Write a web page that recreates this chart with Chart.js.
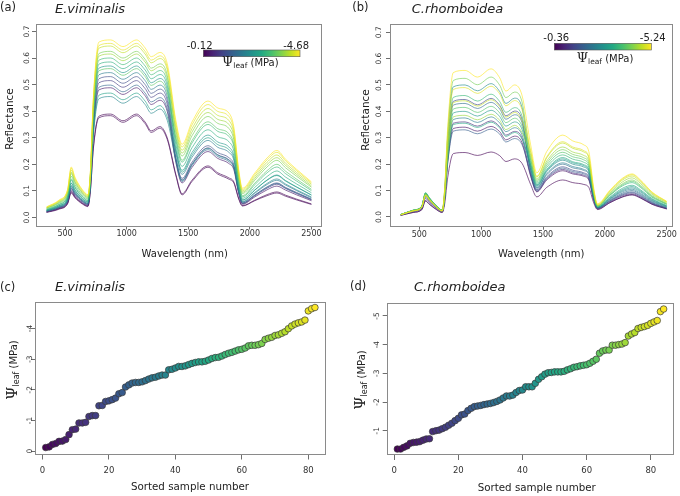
<!DOCTYPE html>
<html>
<head>
<meta charset="utf-8">
<script src="https://cdn.jsdelivr.net/npm/chart.js@4.4.1/dist/chart.umd.min.js"></script>
<style>
  html, body { margin: 0; padding: 0; background: #fff; }
  #fig { position: relative; width: 680px; height: 496px; overflow: hidden; }
  #fig canvas { position: absolute; }
</style>
</head>
<body>
<div id="fig">
  <canvas id="pa" width="340" height="262" style="left:0;top:0"></canvas>
  <canvas id="pb" width="340" height="262" style="left:340px;top:0"></canvas>
  <canvas id="pc" width="340" height="234" style="left:0;top:262px"></canvas>
  <canvas id="pd" width="340" height="234" style="left:340px;top:262px"></canvas>
</div>
<script>
// wavelengths (nm) shared by both sets of spectra
const wavelength = [350, 450, 520, 550, 580, 640, 685, 705, 730, 775, 870, 970, 1080, 1150, 1200, 1270, 1330,
  1400, 1450, 1530, 1660, 1740, 1830, 1870, 1910, 1940, 2040, 2140, 2220, 2290, 2380, 2500];

const wlTicks = [500, 1000, 1500, 2000, 2500];
const reflTicks = [0, 0.1, 0.2, 0.3, 0.4, 0.5, 0.6, 0.7];
const sampleTicks = [0, 20, 40, 60, 80];
const psiTicksC = [0, -1, -2, -3, -4];
const psiTicksD = [-1, -2, -3, -4, -5];

// colour bar ends (MPa)
const cbarA = [-0.12, -4.68];
const cbarB = [-0.36, -5.24];

// (a) E.viminalis: leaf water potential of each plotted spectrum, and its reflectance
const psiSpectraA = [-0.12, -0.16, -0.45, -0.9, -1.2, -1.6, -2.0, -2.2, -2.5, -2.7, -3.0, -3.2, -3.5, -3.75, -4.0, -4.25, -4.5, -4.68];
const reflA = [
  [.020,.033,.053,.096,.077,.053,.043,.097,.265,.381,.389,.364,.389,.359,.326,.342,.299,.161,.089,.140,.194,.168,.149,.134,.072,.045,.065,.086,.096,.084,.069,.051],
  [.019,.031,.051,.092,.074,.051,.041,.096,.260,.375,.383,.358,.383,.353,.320,.336,.293,.157,.085,.135,.189,.163,.144,.130,.069,.043,.063,.082,.092,.080,.066,.049],
  [.021,.034,.055,.100,.080,.055,.045,.122,.332,.480,.488,.463,.488,.458,.425,.441,.398,.206,.130,.188,.248,.222,.203,.180,.089,.050,.077,.104,.118,.103,.085,.063],
  [.022,.036,.058,.105,.084,.058,.047,.129,.350,.507,.515,.490,.515,.485,.452,.468,.425,.217,.141,.201,.262,.236,.217,.192,.094,.052,.081,.110,.125,.109,.090,.066],
  [.023,.037,.061,.110,.088,.061,.050,.133,.360,.522,.530,.505,.530,.500,.467,.483,.440,.224,.147,.208,.270,.244,.225,.199,.098,.054,.084,.115,.130,.113,.094,.069],
  [.024,.038,.062,.112,.090,.062,.050,.125,.339,.490,.498,.473,.498,.468,.435,.451,.408,.212,.135,.195,.255,.229,.210,.186,.094,.055,.084,.113,.128,.111,.092,.068],
  [.025,.040,.065,.118,.094,.065,.053,.136,.371,.537,.545,.520,.545,.515,.482,.498,.455,.241,.162,.226,.290,.264,.245,.216,.105,.058,.091,.124,.140,.122,.101,.074],
  [.025,.041,.066,.120,.096,.066,.054,.114,.309,.447,.455,.430,.455,.425,.392,.408,.365,.216,.139,.199,.260,.234,.215,.190,.099,.060,.094,.128,.145,.126,.104,.077],
  [.027,.044,.072,.130,.104,.072,.059,.143,.388,.562,.570,.545,.570,.540,.507,.523,.480,.257,.177,.244,.310,.284,.265,.233,.115,.065,.103,.141,.160,.139,.115,.085],
  [.027,.044,.070,.128,.102,.070,.058,.117,.318,.460,.468,.443,.468,.438,.405,.421,.378,.249,.170,.235,.300,.274,.255,.224,.113,.066,.103,.140,.158,.137,.114,.084],
  [.029,.048,.077,.140,.112,.077,.063,.146,.398,.577,.585,.560,.585,.555,.522,.538,.495,.274,.192,.262,.330,.304,.285,.250,.125,.072,.113,.154,.175,.152,.126,.093],
  [.030,.049,.080,.145,.116,.080,.065,.150,.408,.592,.600,.575,.600,.570,.537,.553,.510,.291,.208,.280,.350,.324,.305,.267,.135,.078,.123,.168,.190,.165,.137,.101],
  [.033,.053,.085,.155,.124,.085,.070,.140,.381,.552,.560,.535,.560,.530,.497,.513,.470,.299,.215,.289,.360,.334,.315,.275,.140,.082,.129,.176,.200,.174,.144,.106],
  [.035,.056,.091,.165,.132,.091,.074,.156,.425,.617,.625,.600,.625,.595,.562,.578,.535,.315,.231,.307,.380,.354,.335,.292,.151,.090,.140,.190,.215,.187,.155,.114],
  [.036,.058,.094,.170,.136,.094,.077,.154,.418,.607,.615,.590,.615,.585,.552,.568,.525,.328,.242,.321,.395,.369,.350,.305,.158,.095,.147,.199,.225,.196,.162,.119],
  [.037,.061,.098,.178,.142,.098,.080,.161,.439,.637,.645,.620,.645,.615,.582,.598,.555,.340,.253,.334,.410,.384,.365,.318,.165,.100,.154,.208,.235,.204,.169,.125],
  [.039,.063,.102,.185,.148,.102,.083,.164,.445,.647,.655,.630,.655,.625,.592,.608,.565,.353,.265,.348,.425,.399,.380,.330,.173,.105,.161,.217,.245,.213,.176,.130],
  [.040,.065,.105,.190,.152,.105,.086,.167,.454,.660,.668,.643,.668,.638,.605,.621,.578,.364,.275,.359,.438,.412,.393,.341,.179,.110,.167,.224,.252,.219,.181,.134]
];

// (b) C.rhomboidea
const psiSpectraB = [-0.36, -0.6, -1.0, -1.4, -1.8, -2.1, -2.4, -2.7, -3.0, -3.3, -3.6, -3.9, -4.2, -4.5, -4.8, -5.0, -5.24];
const reflB = [
  [.006,.017,.027,.060,.048,.027,.017,.049,.151,.240,.244,.233,.246,.232,.210,.220,.203,.123,.076,.112,.140,.130,.123,.112,.053,.028,.054,.076,.085,.072,.049,.031],
  [.006,.017,.028,.062,.050,.028,.017,.068,.211,.335,.340,.325,.343,.323,.292,.306,.282,.154,.095,.140,.175,.163,.154,.140,.063,.030,.054,.075,.083,.071,.048,.030],
  [.007,.020,.032,.070,.056,.032,.020,.072,.223,.355,.360,.344,.364,.342,.310,.324,.299,.158,.097,.144,.180,.167,.158,.144,.066,.032,.057,.080,.088,.075,.051,.032],
  [.008,.021,.034,.075,.060,.034,.021,.089,.276,.438,.445,.425,.449,.423,.383,.401,.369,.167,.103,.152,.190,.177,.167,.152,.069,.033,.060,.083,.092,.078,.053,.033],
  [.008,.022,.036,.080,.064,.036,.022,.066,.205,.325,.330,.315,.333,.314,.284,.297,.274,.163,.100,.148,.185,.172,.163,.148,.068,.033,.061,.086,.095,.081,.055,.034],
  [.008,.022,.036,.080,.064,.036,.022,.086,.267,.424,.430,.411,.434,.409,.370,.387,.357,.176,.108,.160,.200,.186,.176,.160,.073,.035,.064,.090,.100,.085,.058,.036],
  [.009,.024,.038,.085,.068,.038,.024,.075,.233,.369,.375,.358,.379,.356,.323,.338,.311,.180,.111,.164,.205,.191,.180,.164,.074,.035,.067,.095,.105,.089,.061,.038],
  [.009,.025,.041,.090,.072,.041,.025,.100,.310,.493,.500,.478,.505,.475,.430,.450,.415,.189,.116,.172,.215,.200,.189,.172,.077,.036,.069,.099,.110,.094,.064,.040],
  [.009,.025,.040,.088,.070,.040,.025,.080,.248,.394,.400,.382,.404,.380,.344,.360,.332,.194,.119,.176,.220,.205,.194,.176,.079,.037,.072,.103,.115,.098,.067,.041],
  [.009,.025,.041,.090,.072,.041,.025,.071,.220,.350,.355,.339,.359,.337,.305,.320,.295,.198,.122,.180,.225,.209,.198,.180,.081,.038,.075,.108,.120,.102,.070,.043],
  [.009,.026,.041,.092,.074,.041,.026,.092,.285,.453,.460,.439,.465,.437,.396,.414,.382,.207,.127,.188,.235,.219,.207,.188,.084,.040,.081,.117,.130,.111,.075,.047],
  [.009,.025,.041,.090,.072,.041,.025,.083,.257,.409,.415,.396,.419,.394,.357,.374,.344,.216,.132,.196,.245,.228,.216,.196,.088,.041,.083,.121,.135,.115,.078,.049],
  [.009,.025,.040,.088,.070,.040,.025,.105,.326,.517,.525,.501,.530,.499,.452,.473,.436,.224,.138,.204,.255,.237,.224,.204,.091,.042,.086,.125,.140,.119,.081,.050],
  [.009,.024,.038,.085,.068,.038,.024,.077,.239,.379,.385,.368,.389,.366,.331,.347,.320,.233,.143,.212,.265,.246,.233,.212,.094,.043,.090,.132,.148,.126,.086,.053],
  [.008,.023,.037,.083,.066,.037,.023,.088,.273,.433,.440,.420,.444,.418,.378,.396,.365,.246,.151,.224,.280,.260,.246,.224,.099,.045,.095,.139,.155,.132,.090,.056],
  [.008,.022,.036,.080,.064,.036,.022,.098,.304,.483,.490,.468,.495,.466,.421,.441,.407,.251,.154,.228,.285,.265,.251,.228,.101,.047,.098,.143,.160,.136,.093,.058],
  [.008,.023,.037,.082,.066,.037,.023,.111,.344,.547,.555,.530,.561,.527,.477,.500,.461,.273,.167,.248,.310,.288,.273,.248,.109,.050,.101,.146,.163,.139,.095,.059]
];

// (c), (d) sorted leaf water potential (MPa)
const psiSortedC = [-0.12,-0.14,-0.22,-0.25,-0.32,-0.33,-0.38,-0.54,-0.70,-0.72,
  -0.92,-0.92,-0.94,-1.13,-1.16,-1.16,-1.48,-1.49,-1.62,-1.64,
  -1.68,-1.73,-1.87,-1.91,-2.09,-2.16,-2.22,-2.24,-2.24,-2.26,
  -2.30,-2.35,-2.39,-2.41,-2.45,-2.48,-2.48,-2.65,-2.67,-2.71,
  -2.76,-2.76,-2.78,-2.82,-2.86,-2.89,-2.91,-2.91,-2.93,-2.97,
  -3.02,-3.05,-3.06,-3.10,-3.15,-3.19,-3.22,-3.26,-3.30,-3.32,
  -3.36,-3.43,-3.45,-3.45,-3.47,-3.51,-3.64,-3.68,-3.71,-3.77,
  -3.79,-3.84,-3.89,-3.99,-4.08,-4.14,-4.18,-4.21,-4.27,-4.57,
  -4.64,-4.68];
const psiSortedD = [-0.36,-0.36,-0.42,-0.47,-0.56,-0.59,-0.60,-0.62,-0.67,-0.71,
  -0.72,-0.97,-1.00,-1.02,-1.07,-1.12,-1.19,-1.26,-1.35,-1.43,
  -1.55,-1.58,-1.70,-1.78,-1.84,-1.86,-1.88,-1.91,-1.93,-1.95,
  -1.98,-2.02,-2.07,-2.14,-2.21,-2.21,-2.24,-2.33,-2.40,-2.42,
  -2.53,-2.53,-2.53,-2.65,-2.79,-2.88,-2.97,-3.02,-3.03,-3.05,
  -3.05,-3.05,-3.07,-3.12,-3.16,-3.21,-3.23,-3.26,-3.28,-3.30,
  -3.35,-3.42,-3.49,-3.70,-3.78,-3.81,-3.81,-3.98,-3.98,-4.00,
  -4.02,-4.07,-4.30,-4.37,-4.42,-4.56,-4.60,-4.63,-4.67,-4.74,
  -4.79,-4.84,-5.15,-5.24];

Chart.defaults.font.family = '"DejaVu Sans", sans-serif';

const VIRIDIS = ['#440154', '#482475', '#414487', '#355f8d', '#2a788e', '#21918c',
  '#22a884', '#44bf70', '#7ad151', '#bddf26', '#fde725'];

function rgb(h) {
  return [1, 3, 5].map(i => parseInt(h.slice(i, i + 2), 16));
}

function viridis(t, a) {
  t = Math.max(0, Math.min(1, t));
  const p = t * (VIRIDIS.length - 1);
  const i = Math.min(Math.floor(p), VIRIDIS.length - 2);
  const f = p - i;
  const c0 = rgb(VIRIDIS[i]), c1 = rgb(VIRIDIS[i + 1]);
  const c = c0.map((v, j) => Math.round(v + (c1[j] - v) * f));
  return 'rgba(' + c.join(',') + ',' + (a == null ? 1 : a) + ')';
}

function label(ctx, str, x, y, font, align, rotate, color) {
  ctx.save();
  ctx.font = font;
  ctx.fillStyle = color || '#222';
  ctx.textAlign = align || 'left';
  ctx.textBaseline = 'middle';
  ctx.translate(x, y);
  if (rotate) ctx.rotate(-Math.PI / 2);
  ctx.fillText(str, 0, 0);
  ctx.restore();
}

// Ψ with "leaf" subscript, then (MPa); centred on x, y
function psiLabel(ctx, x, y, sizes, rotate) {
  const fPsi = sizes[0] + 'px "DejaVu Serif"';
  const fSub = sizes[1] + 'px "DejaVu Sans"';
  const fMain = sizes[2] + 'px "DejaVu Sans"';
  ctx.save();
  ctx.translate(x, y);
  if (rotate) ctx.rotate(-Math.PI / 2);
  ctx.fillStyle = '#222';
  ctx.textBaseline = 'alphabetic';
  ctx.font = fPsi; const w1 = ctx.measureText('Ψ').width;
  ctx.font = fSub; const w2 = ctx.measureText('leaf').width;
  ctx.font = fMain; const w3 = ctx.measureText(' (MPa)').width;
  let cx = -(w1 + w2 + w3) / 2;
  const base = sizes[2] * 0.36;
  ctx.font = fPsi; ctx.fillText('Ψ', cx, base); cx += w1;
  ctx.font = fSub; ctx.fillText('leaf', cx, base + sizes[1] * 0.3); cx += w2;
  ctx.font = fMain; ctx.fillText(' (MPa)', cx, base);
  ctx.restore();
}

function colorbar(ctx, cb, ends) {
  const g = ctx.createLinearGradient(cb.x, 0, cb.x + cb.w, 0);
  VIRIDIS.forEach((c, i) => g.addColorStop(i / (VIRIDIS.length - 1), c));
  ctx.fillStyle = g;
  ctx.fillRect(cb.x, cb.y, cb.w, cb.h);
  ctx.strokeStyle = '#555';
  ctx.lineWidth = 0.6;
  ctx.strokeRect(cb.x, cb.y, cb.w, cb.h);
  label(ctx, ends[0].toFixed(2), cb.lx, cb.ly, '10px "DejaVu Sans"', 'left');
  label(ctx, ends[1].toFixed(2), cb.rx, cb.ly, '10px "DejaVu Sans"', 'right');
  psiLabel(ctx, cb.px, cb.py, [13, 7.5, 10], false);
}

function frame(ctx, a) {
  ctx.save();
  ctx.strokeStyle = '#8a8a8a';
  ctx.lineWidth = 1;
  const l = Math.round(a.left) + 0.5, t = Math.round(a.top) + 0.5;
  const r = Math.round(a.right) - 0.5, b = Math.round(a.bottom) - 0.5;
  ctx.strokeRect(l, t, r - l, b - t);
  ctx.restore();
}

function scaleOpts(o) {
  return {
    type: 'linear', min: o.min, max: o.max, reverse: !!o.reverse,
    afterFit: s => { if (o.w != null) s.width = o.w; if (o.h != null) s.height = o.h; },
    afterBuildTicks: s => { s.ticks = o.ticks.map(v => ({ value: v })); },
    ticks: {
      callback: v => String(v), color: o.hide ? 'rgba(0,0,0,0)' : '#333',
      font: { size: o.font || 8 }, padding: o.pad || 0,
      maxRotation: 0, minRotation: 0, autoSkip: false
    },
    grid: { drawOnChartArea: false, drawTicks: true, tickLength: o.tl, tickColor: '#6e6e6e', tickWidth: 1 },
    border: { display: false }
  };
}

function decor(draw) {
  return {
    id: 'decor',
    afterDraw(chart) {
      const ctx = chart.ctx;
      frame(ctx, chart.chartArea);
      draw(ctx, chart);
    }
  };
}

function spectraChart(id, o) {
  const t = v => (v - o.cbar[0]) / (o.cbar[1] - o.cbar[0]);
  const datasets = o.refl.map((row, i) => ({
    data: row.map((r, j) => ({ x: wavelength[j], y: r })),
    borderColor: viridis(t(o.psi[i]), 0.75),
    borderWidth: 0.85,
    pointRadius: 0,
    pointHoverRadius: 0,
    cubicInterpolationMode: 'monotone'
  })).reverse();   // yellow (driest) spectra end up on top

  return new Chart(document.getElementById(id), {
    type: 'line',
    data: { datasets },
    options: {
      responsive: false, animation: false, events: [],
      layout: { autoPadding: false, padding: o.padding },
      plugins: { legend: { display: false }, tooltip: { enabled: false } },
      scales: {
        x: scaleOpts({ min: o.x[0], max: o.x[1], ticks: wlTicks, h: o.xh, tl: 3, font: 8, pad: 0 }),
        y: scaleOpts({ min: o.y[0], max: o.y[1], ticks: reflTicks, w: o.yw, tl: 4, hide: true })
      }
    },
    plugins: [decor((ctx, chart) => {
      const ys = chart.scales.y;
      ys.ticks.forEach(tk => label(ctx, tk.value.toFixed(1), o.yLabX, ys.getPixelForValue(tk.value),
        '7.5px "DejaVu Sans"', 'center', true, '#333'));
      label(ctx, o.letter, o.letterX, 8, '11.5px "DejaVu Sans"', 'left');
      label(ctx, o.species, o.speciesX, 10, 'italic 13px "DejaVu Sans"', 'left');
      label(ctx, 'Wavelength (nm)', o.xTitle[0], o.xTitle[1], '10px "DejaVu Sans"', 'center');
      label(ctx, 'Reflectance', o.yTitle[0], o.yTitle[1], '10.5px "DejaVu Sans"', 'center', true);
      colorbar(ctx, o.cb, o.cbar);
    })]
  });
}

function scatterChart(id, o) {
  const n = o.psi.length;
  return new Chart(document.getElementById(id), {
    type: 'scatter',
    data: {
      datasets: [{
        data: o.psi.map((v, i) => ({ x: i + 1, y: v })),
        pointRadius: 3.3,
        pointHoverRadius: 3.3,
        pointBackgroundColor: o.psi.map((v, i) => viridis(i / (n - 1))),
        pointBorderColor: '#3a3a3a',
        pointBorderWidth: 0.7
      }]
    },
    options: {
      responsive: false, animation: false, events: [],
      layout: { autoPadding: false, padding: o.padding },
      plugins: { legend: { display: false }, tooltip: { enabled: false } },
      scales: {
        x: scaleOpts({ min: o.x[0], max: o.x[1], ticks: sampleTicks, h: o.xh, tl: 5, font: 8.5, pad: 6 }),
        y: scaleOpts({ min: o.y[0], max: o.y[1], ticks: o.yTicks, w: o.yw, tl: 4, hide: true, reverse: true })
      }
    },
    plugins: [decor((ctx, chart) => {
      const ys = chart.scales.y;
      ys.ticks.forEach(tk => label(ctx, String(tk.value), o.yLabX, ys.getPixelForValue(tk.value),
        '7.5px "DejaVu Sans"', 'center', true, '#333'));
      label(ctx, o.letter, o.letterX, o.headY, '11.5px "DejaVu Sans"', 'left');
      label(ctx, o.species, o.speciesX, o.headY, 'italic 13px "DejaVu Sans"', 'left');
      label(ctx, 'Sorted sample number', o.xTitle[0], o.xTitle[1], '10.3px "DejaVu Sans"', 'center');
      psiLabel(ctx, o.yTitle[0], o.yTitle[1], [15, 8, 10], true);
    })]
  });
}

spectraChart('pa', {
  psi: psiSpectraA, refl: reflA, cbar: cbarA,
  x: [264, 2586], y: [-0.034, 0.728],
  padding: { left: 0, top: 24, right: 18, bottom: 0 }, yw: 36, xh: 35.5,
  yLabX: 27.5, letter: '(a)', letterX: 0, species: 'E.viminalis', speciesX: 55,
  xTitle: [184.7, 254], yTitle: [10, 119],
  cb: { x: 203.3, y: 50, w: 96.7, h: 6.7, lx: 186.7, rx: 309, ly: 46, px: 250.3, py: 62 }
});

spectraChart('pb', {
  psi: psiSpectraB, refl: reflB, cbar: cbarB,
  x: [263, 2553], y: [-0.037, 0.731],
  padding: { left: 0, top: 24, right: 6.7, bottom: 0 }, yw: 50, xh: 35.3,
  yLabX: 39.2, letter: '(b)', letterX: 12.3, species: 'C.rhomboidea', speciesX: 71.7,
  xTitle: [201.3, 254], yTitle: [26, 120],
  cb: { x: 214.3, y: 43.3, w: 97, h: 6.7, lx: 203.3, rx: 325.7, ly: 38.3, px: 265, py: 58 }
});

scatterChart('pc', {
  psi: psiSortedC, yTicks: psiTicksC,
  x: [-2.24, 85.24], y: [-4.85, 0.107],
  padding: { left: 0, top: 40.3, right: 14.3, bottom: 0 }, yw: 35, xh: 41.5,
  yLabX: 30, letter: '(c)', letterX: 0, species: 'E.viminalis', speciesX: 55, headY: 26,
  xTitle: [190, 225], yTitle: [13, 108]
});

scatterChart('pd', {
  psi: psiSortedD, yTicks: psiTicksD,
  x: [-2.32, 87.32], y: [-5.44, -0.153],
  padding: { left: 0, top: 41.3, right: 5.7, bottom: 0 }, yw: 46.7, xh: 41,
  yLabX: 36.7, letter: '(d)', letterX: 10, species: 'C.rhomboidea', speciesX: 74, headY: 25.5,
  xTitle: [196.7, 226.3], yTitle: [21, 118]
});
</script>
</body>
</html>
